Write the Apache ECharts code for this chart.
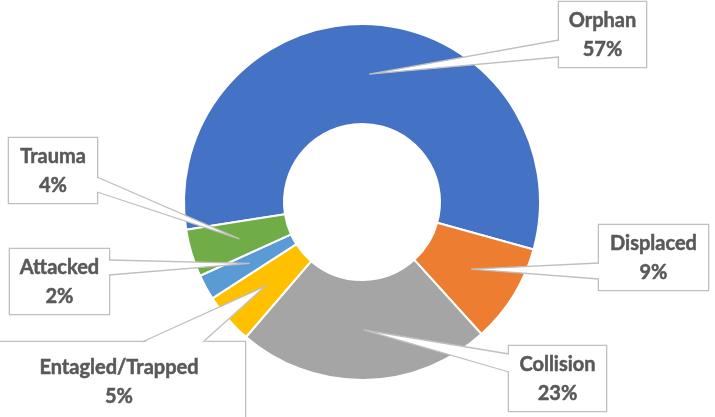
<!DOCTYPE html>
<html>
<head>
<meta charset="utf-8">
<script src="https://cdn.jsdelivr.net/npm/echarts@6/dist/echarts.min.js"></script>
<style>
  html, body { margin: 0; padding: 0; background: #fff; }
  #chart { width: 715px; height: 417px; }
</style>
</head>
<body>
<div id="chart"></div>
<script>
const categories = ['Orphan', 'Displaced', 'Collision', 'Entagled/Trapped', 'Attacked', 'Trauma']
const shares = [56.8, 9.0, 23.0, 4.6, 2.3, 4.3]
const colors = ['#4472C4', '#ED7D31', '#A5A5A5', '#FFC000', '#5B9BD5', '#70AD47']

// callout boxes (left, top, width, padding) and where the pointer leaves the box
const callouts = [
  { x: 559, y: 2, w: 87, pad: [4, 0, 3, 0], side: 'left', a: 40, b: 57 },
  { x: 599, y: 225, w: 109, pad: [4, 0, 3, 0], side: 'left', a: 263, b: 279 },
  { x: 509, y: 346, w: 97, pad: [4, 0, 3, 0], side: 'left', a: 354, b: 372 },
  { x: -7, y: 342, w: 252, pad: [11, 0, 20, 0], side: 'top', a: 142, b: 203 },
  { x: 10, y: 249, w: 99, pad: [4, 0, 3, 0], side: 'right', a: 260, b: 275 },
  { x: 9, y: 138, w: 88, pad: [4, 0, 3, 0], side: 'right', a: 177, b: 192 },
]

const center = [362, 202]
const radius = [78, 178]
const startAngle = 189
const lineColor = '#bfbfbf'
const textColor = '#595959'

// pointer tip sits mid-ring at the middle angle of each slice
const total = shares.reduce((s, v) => s + v, 0)
let acc = 0
const tips = shares.map((v) => {
  const a = (startAngle - ((acc + v / 2) / total) * 360) * Math.PI / 180
  acc += v
  const r = (radius[0] + radius[1]) / 2
  return [center[0] + r * Math.cos(a), center[1] - r * Math.sin(a)]
})

// base of the pointer on the box edge; inset pushes it a little into the box
function basePoints(c, inset) {
  if (c.side === 'left') return [[c.x + inset, c.a], [c.x + inset, c.b]]
  if (c.side === 'right') return [[c.x + c.w - inset, c.a], [c.x + c.w - inset, c.b]]
  return [[c.a, c.y + inset], [c.b, c.y + inset]]
}

// white wedge pointers drawn over the ring, like Excel callouts
const pointers = []
callouts.forEach((c, i) => {
  const [f1, f2] = basePoints(c, 1.5)
  const [p1, p2] = basePoints(c, 0)
  pointers.push({
    type: 'polygon',
    z: 10,
    silent: true,
    shape: { points: [f1, tips[i], f2] },
    style: { fill: '#fff', stroke: null },
  })
  pointers.push({
    type: 'polyline',
    z: 11,
    silent: true,
    shape: { points: [p1, tips[i], p2] },
    style: { fill: null, stroke: lineColor, lineWidth: 1.3 },
  })
})

const chart = echarts.init(document.getElementById('chart'))
let option = {
  animation: false,
  graphic: pointers,
  series: [
    {
      type: 'pie',
      center: center,
      radius: radius,
      startAngle: startAngle,
      clockwise: true,
      avoidLabelOverlap: false,
      emphasis: { disabled: true },
      itemStyle: { borderColor: '#fff', borderWidth: 2 },
      label: {
        show: true,
        position: 'outside',
        formatter: (p) => p.name + '\n' + Math.round(p.percent) + '%',
        color: textColor,
        fontFamily: 'Lato',
        fontWeight: 'bold',
        fontSize: 20,
        lineHeight: 29,
        textBorderColor: textColor,
        textBorderWidth: 0.5,
        backgroundColor: '#fff',
        borderColor: lineColor,
        borderWidth: 1.3,
      },
      labelLine: { show: false },
      labelLayout: (params) => {
        const c = callouts[params.dataIndex]
        return {
          x: c.x + c.w / 2,
          y: c.y,
          align: 'center',
          verticalAlign: 'top',
        }
      },
      data: categories.map((name, i) => ({
        name: name,
        value: shares[i],
        itemStyle: { color: colors[i] },
        label: { width: callouts[i].w, padding: callouts[i].pad },
      })),
    },
  ],
}
chart.setOption(option)
</script>
</body>
</html>
